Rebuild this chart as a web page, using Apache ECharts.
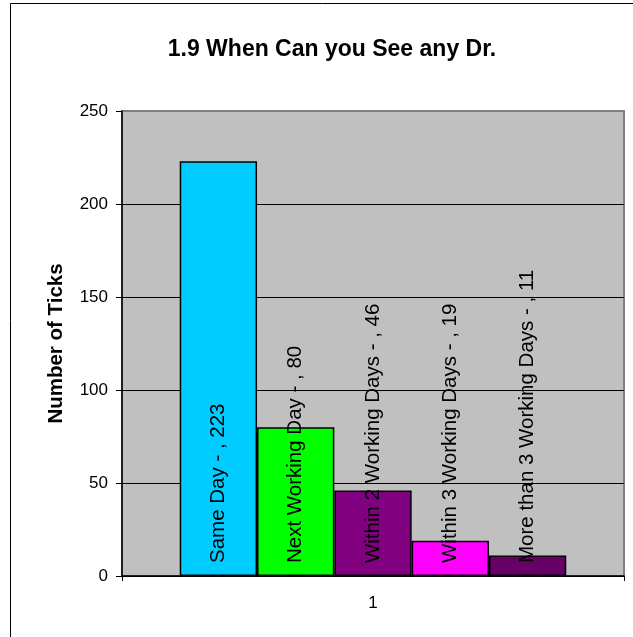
<!DOCTYPE html>
<html>
<head>
<meta charset="utf-8">
<script src="https://cdn.jsdelivr.net/npm/echarts@6/dist/echarts.min.js"></script>
<style>html,body{margin:0;padding:0;background:#fff;}#c{width:633px;height:637px;}</style>
</head>
<body>
<div id="c"></div>
<script>
const titleText = '1.9 When Can you See any Dr.';
const categories = ['1'];
const seriesNames = ['Same Day', 'Next Working Day', 'Within 2 Working Days', 'Within 3 Working Days', 'More than 3 Working Days'];
const seriesValues = [223, 80, 46, 19, 11];
const seriesColors = ['#00CCFF', '#00FF00', '#800080', '#FF00FF', '#660066'];
const yTicks = { min: 0, max: 250, interval: 50 };

const FONT = '"Liberation Sans", Arial, sans-serif';
const chart = echarts.init(document.getElementById('c'), null, { renderer: 'canvas' });

const series = seriesNames.map((name, i) => ({
  name: name,
  type: 'bar',
  data: [seriesValues[i]],
  barGap: '0%',
  barCategoryGap: '23%',
  itemStyle: { color: seriesColors[i], borderColor: '#000', borderWidth: 1.5 },
  label: {
    show: true,
    position: 'insideBottom',
    rotate: 90,
    align: 'left',
    verticalAlign: 'middle',
    distance: 13,
    formatter: '{a} - , {c}',
    color: '#000',
    fontFamily: FONT,
    fontSize: 20.5
  },
  emphasis: { disabled: true },
  animation: false
}));

chart.setOption({
  animation: false,
  backgroundColor: '#fff',
  title: {
    text: titleText,
    left: 327,
    top: 33,
    textAlign: 'center',
    textStyle: { fontFamily: FONT, fontSize: 23, fontWeight: 'bold', color: '#000' }
  },
  graphic: [{
    type: 'rect',
    shape: { x: 10.5, y: 3.5, width: 700, height: 700 },
    style: { fill: 'none', stroke: '#000', lineWidth: 1 },
    z: -10,
    silent: true
  }],
  grid: {
    left: 122, top: 111, right: 9, bottom: 61,
    show: true,
    backgroundColor: '#C0C0C0',
    borderColor: '#808080',
    borderWidth: 2
  },
  xAxis: {
    type: 'category',
    data: categories,
    axisLine: { show: true, lineStyle: { color: '#000', width: 1.5 } },
    axisTick: { show: true, length: 5, lineStyle: { color: '#000' } },
    axisLabel: { fontFamily: FONT, fontSize: 17, color: '#000', margin: 19 }
  },
  yAxis: {
    type: 'value',
    min: yTicks.min, max: yTicks.max, interval: yTicks.interval,
    name: 'Number of Ticks',
    nameLocation: 'middle',
    nameGap: 55,
    nameTextStyle: { fontFamily: FONT, fontSize: 20.5, fontWeight: 'bold', color: '#000' },
    axisLine: { show: true, lineStyle: { color: '#000', width: 1.5 } },
    axisTick: { show: true, length: 6, lineStyle: { color: '#000' } },
    axisLabel: { fontFamily: FONT, fontSize: 17, color: '#000', margin: 14 },
    splitLine: { show: true, showMaxLine: false, lineStyle: { color: '#000', width: 1 } }
  },
  series: series
});
</script>
</body>
</html>
